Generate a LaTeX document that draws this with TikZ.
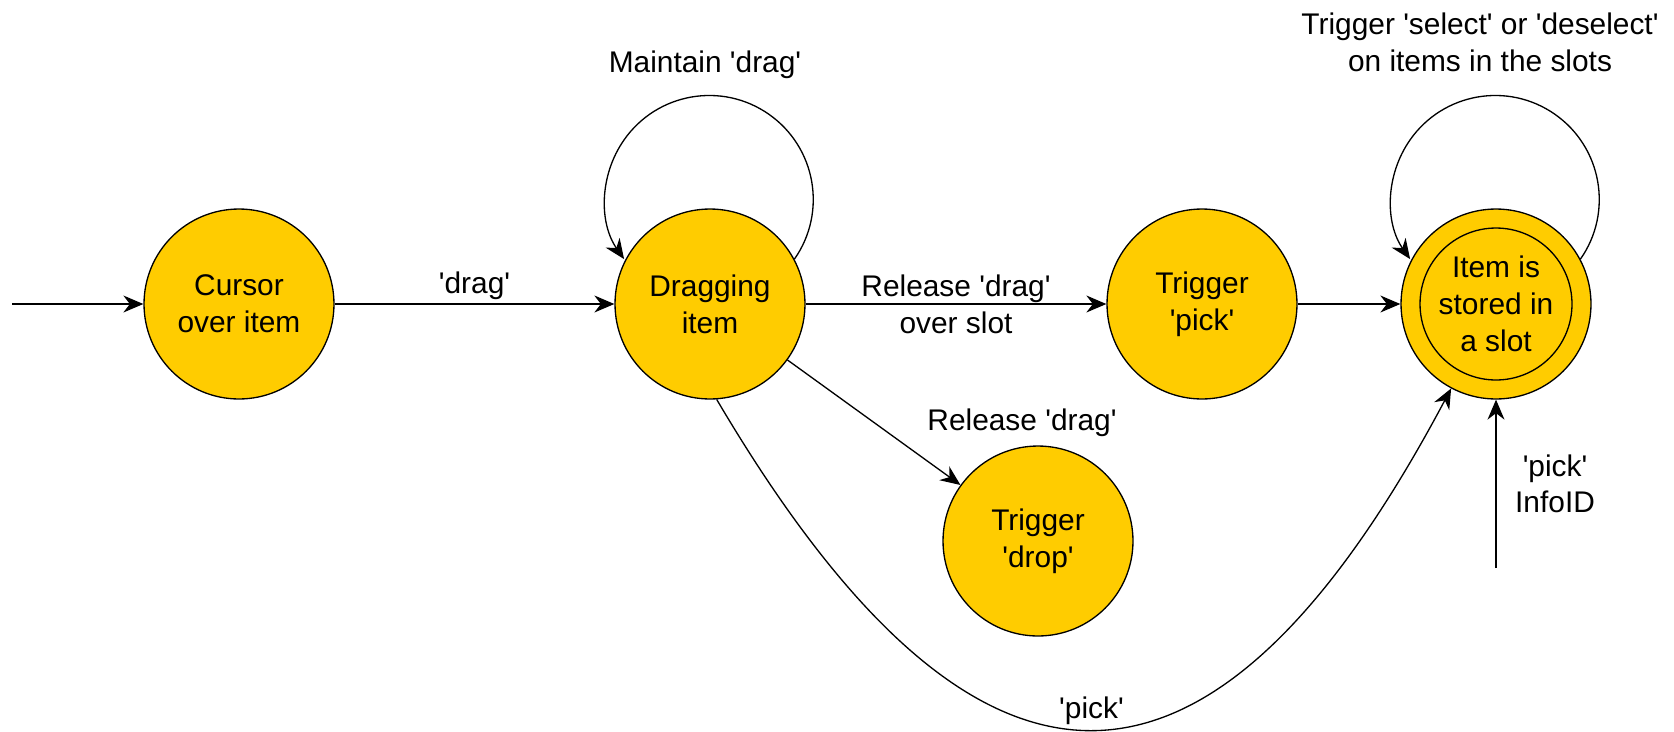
\documentclass[tikz,border=0pt]{standalone}
\usepackage{fontspec}
\setmainfont{Liberation Sans}[Ligatures=TeXOff]
\usetikzlibrary{arrows.meta}
\definecolor{stateyellow}{RGB}{255,204,0}
\begin{document}
\begin{tikzpicture}[x=0.02cm,y=0.02cm,font=\fontsize{17}{21}\selectfont,
 state/.style={circle,draw,fill=stateyellow,minimum size=3.8cm,inner sep=0pt,align=center,line width=0.75pt},
 arr/.style={-{Stealth[length=0.4cm,width=0.34cm,inset=0.13cm]},line width=0.75pt},
 lbl/.style={inner sep=2pt,align=center}]
 \useasboundingbox (0,0) rectangle (1674,-731);
 \node[state] (cursor) at (239,-304) {Cursor\\over item};
 \node[state] (drag) at (710,-304) {Dragging\\item};
 \node[state] (pickT) at (1202,-304) {Trigger\\'pick'};
 \node[state] (drop) at (1038,-541) {Trigger\\'drop'};
 \node[state] (stored) at (1496,-304) {Item is\\stored in\\a slot};
 \draw[line width=0.75pt] (stored.center) circle[radius=1.52cm];
 \coordinate (start) at (12,-304);
 \coordinate (infosrc) at (1496,-568);
 \draw[arr] (start) -- (cursor);
 \draw[arr] (cursor) -- (drag) node[lbl,midway,above] {'drag'};
 \draw[arr] (drag) -- (pickT) node[lbl,midway] {Release 'drag'\\over slot};
 \draw[arr] (pickT) -- (stored);
 \draw[arr] (drag) -- (drop);
 \node[lbl] (releaselbl) at (1022,-423) {Release 'drag'};
 \draw[arr] (drag.28) arc[start angle=-35,end angle=215,radius=2.08cm];
 \node[lbl] (maintainlbl) at (705,-65) {Maintain 'drag'};
 \draw[arr] (stored.28) arc[start angle=-35,end angle=215,radius=2.08cm];
 \node[lbl] (selectlbl) at (1480,-42) {Trigger 'select' or 'deselect'\\on items in the slots};
 \draw[arr] (drag.274) .. controls (977,-841) and (1211,-841) .. (stored.242) node[lbl,pos=0.5,above] {'pick'};
 \draw[arr] (infosrc) -- (stored.south) node[lbl,midway,anchor=west,xshift=0.3cm] {'pick'\\InfoID};
\end{tikzpicture}
\end{document}
